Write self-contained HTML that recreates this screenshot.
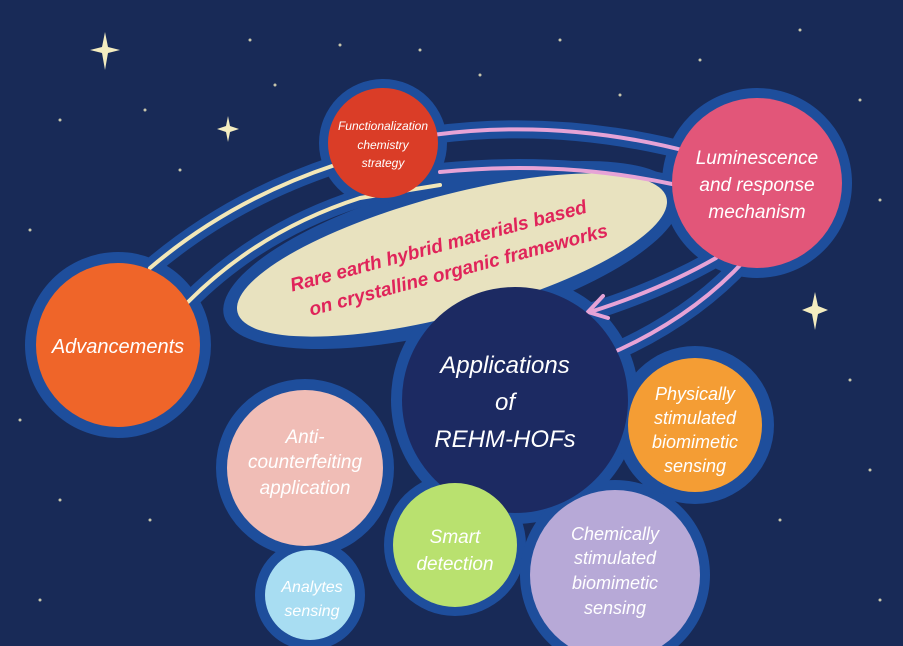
<!DOCTYPE html>
<html><head><meta charset="utf-8"><style>
html,body{margin:0;padding:0;background:#182a57;}
svg{display:block}
text{font-family:"Liberation Sans",sans-serif;font-style:italic;text-anchor:middle;}
</style></head><body>
<svg width="903" height="646" viewBox="0 0 903 646" xmlns="http://www.w3.org/2000/svg">
<rect width="903" height="646" fill="#182a57"/>
<g fill="#f3ecc0">
<path d="M105 32 L108 47 L120 50 L108 53 L105 70 L102 53 L90 50 L102 47Z"/>
<path d="M228 116 L230 126 L239 129 L230 132 L228 142 L226 132 L217 129 L226 126Z"/>
<path d="M815 292 L818 306 L828 310 L818 314 L815 330 L812 314 L802 310 L812 306Z"/>
<g opacity="0.8">
<circle cx="60" cy="120" r="1.5"/><circle cx="30" cy="230" r="1.5"/><circle cx="180" cy="170" r="1.5"/>
<circle cx="250" cy="40" r="1.5"/><circle cx="420" cy="50" r="1.5"/><circle cx="560" cy="40" r="1.5"/>
<circle cx="620" cy="95" r="1.5"/><circle cx="700" cy="60" r="1.5"/><circle cx="800" cy="30" r="1.5"/>
<circle cx="860" cy="100" r="1.5"/><circle cx="880" cy="200" r="1.5"/><circle cx="850" cy="380" r="1.5"/>
<circle cx="870" cy="470" r="1.5"/><circle cx="20" cy="420" r="1.5"/><circle cx="60" cy="500" r="1.5"/>
<circle cx="150" cy="520" r="1.5"/><circle cx="40" cy="600" r="1.5"/><circle cx="290" cy="190" r="1.5"/>
<circle cx="275" cy="85" r="1.5"/><circle cx="480" cy="75" r="1.5"/><circle cx="780" cy="520" r="1.5"/>
<circle cx="145" cy="110" r="1.5"/><circle cx="340" cy="45" r="1.5"/><circle cx="880" cy="600" r="1.5"/>
</g></g>
<!-- halos -->
<g fill="#1e4e9c">
<circle cx="383" cy="143" r="64"/>
<circle cx="757" cy="183" r="95"/>
<circle cx="118" cy="345" r="93"/>
<ellipse cx="452" cy="255" rx="236" ry="74" transform="rotate(-15 452 255)"/>
<circle cx="515" cy="400" r="124"/>
<circle cx="695" cy="425" r="79"/>
<circle cx="305" cy="468" r="89"/>
<circle cx="455" cy="545" r="71"/>
<circle cx="615" cy="575" r="95"/>
<circle cx="310" cy="595" r="55"/>
</g>
<g fill="none" stroke="#1e4e9c" stroke-linecap="round" stroke-width="18">
<path d="M150 268 Q230 200 335 165"/>
<path d="M188 302 Q260 230 360 198 L440 185"/>
<path d="M432 135 Q560 118 690 152"/>
<path d="M440 172 Q560 160 672 184"/>
<path d="M716 258 Q660 290 590 312"/>
<path d="M745 260 Q690 320 605 356"/>
</g>
<ellipse cx="452" cy="255" rx="222" ry="60" transform="rotate(-15 452 255)" fill="#e8e2bf"/>
<!-- lines -->
<g fill="none" stroke-linecap="round" stroke-width="4">
<path d="M150 268 Q230 200 335 165" stroke="#f2e7b8"/>
<path d="M188 302 Q260 230 360 198 L440 185" stroke="#f2e7b8"/>
<path d="M432 135 Q560 118 690 152" stroke="#e6a3d6"/>
<path d="M440 172 Q560 160 672 184" stroke="#e6a3d6"/>
<path d="M716 258 Q660 290 590 312" stroke="#e6a3d6"/>
<path d="M588 312 L603 296 M588 312 L608 318" stroke="#e6a3d6"/>
<path d="M745 260 Q690 320 605 356" stroke="#e6a3d6"/>
</g>
<!-- circles -->
<circle cx="383" cy="143" r="55" fill="#da3d27"/>
<circle cx="757" cy="183" r="85" fill="#e25679"/>
<circle cx="118" cy="345" r="82" fill="#ef6529"/>
<circle cx="515" cy="400" r="113" fill="#1c2a62"/>
<circle cx="695" cy="425" r="67" fill="#f49d34"/>
<circle cx="305" cy="468" r="78" fill="#f0bdb6"/>
<circle cx="455" cy="545" r="62" fill="#b9e16f"/>
<circle cx="615" cy="575" r="85" fill="#b7a9d7"/>
<circle cx="310" cy="595" r="45" fill="#a8ddf2"/>
<!-- text -->
<g fill="#fff">
<text x="383" y="130" font-size="12">Functionalization</text>
<text x="383" y="149" font-size="12">chemistry</text>
<text x="383" y="167" font-size="12">strategy</text>
<text x="757" y="164" font-size="19">Luminescence</text>
<text x="757" y="191" font-size="19">and response</text>
<text x="757" y="218" font-size="19">mechanism</text>
<text x="118" y="353" font-size="20">Advancements</text>
<text x="505" y="373" font-size="24">Applications</text>
<text x="505" y="410" font-size="24">of</text>
<text x="505" y="447" font-size="24">REHM-HOFs</text>
<text x="695" y="400" font-size="18">Physically</text>
<text x="695" y="424" font-size="18">stimulated</text>
<text x="695" y="448" font-size="18">biomimetic</text>
<text x="695" y="472" font-size="18">sensing</text>
<text x="305" y="443" font-size="19">Anti-</text>
<text x="305" y="468" font-size="19">counterfeiting</text>
<text x="305" y="494" font-size="19">application</text>
<text x="455" y="543" font-size="19">Smart</text>
<text x="455" y="570" font-size="19">detection</text>
<text x="615" y="540" font-size="18">Chemically</text>
<text x="615" y="564" font-size="18">stimulated</text>
<text x="615" y="589" font-size="18">biomimetic</text>
<text x="615" y="614" font-size="18">sensing</text>
<text x="312" y="592" font-size="16">Analytes</text>
<text x="312" y="616" font-size="16">sensing</text>
</g>
<g fill="#e0245a" font-size="19" font-weight="bold">
<text x="440" y="252" transform="rotate(-15 440 252)">Rare earth hybrid materials based</text>
<text x="460" y="276" transform="rotate(-15 460 276)">on crystalline organic frameworks</text>
</g>
</svg>
</body></html>
